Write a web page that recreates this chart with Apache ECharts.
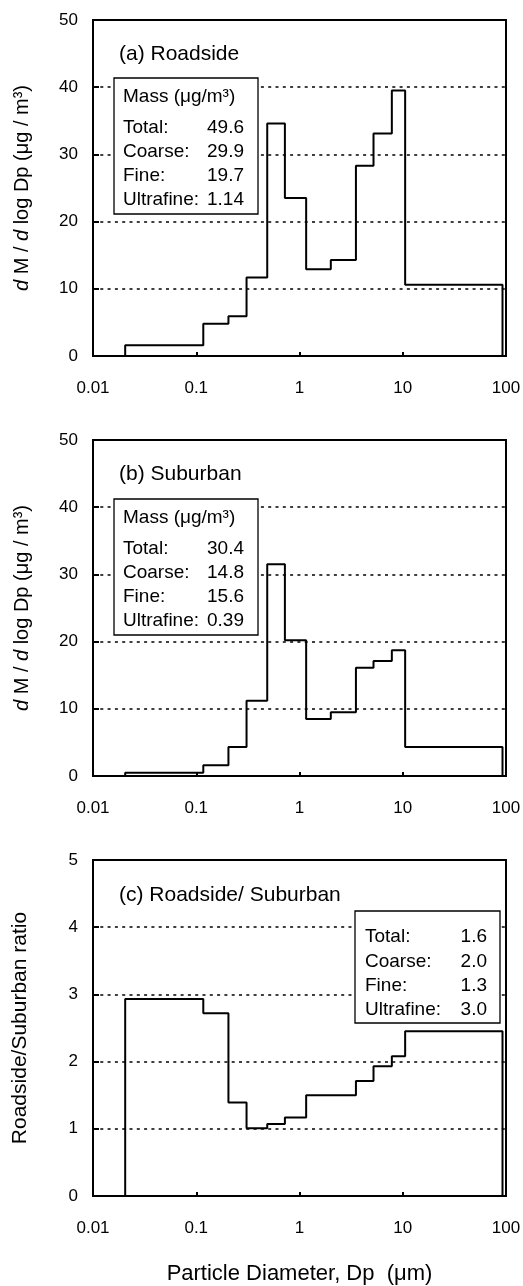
<!DOCTYPE html>
<html>
<head>
<meta charset="utf-8">
<script src="https://cdn.jsdelivr.net/npm/echarts@6/dist/echarts.min.js"></script>
<style>
  html, body { margin: 0; padding: 0; background: #fff; }
  #chart-root { width: 523px; height: 1286px; }
</style>
</head>
<body>
<div id="chart-root"></div>
<script>
// bin edges of the impactor stages (um)
var binEdges = [0.0205, 0.117, 0.205, 0.307, 0.487, 0.722, 1.16, 2.01, 3.52, 5.21, 7.84, 10.55, 92.5];

// dM/dlogDp per stage (ug/m3)
var roadside = [1.6, 4.8, 5.9, 11.7, 34.6, 23.5, 12.9, 14.3, 28.3, 33.1, 39.5, 10.6];
var suburban = [0.5, 1.6, 4.3, 11.2, 31.5, 20.2, 8.5, 9.5, 16.1, 17.1, 18.7, 4.3];
var ratio = [2.93, 2.72, 1.39, 1.01, 1.07, 1.17, 1.50, 1.50, 1.71, 1.93, 2.08, 2.45];

var xTickLabels = ["0.01", "0.1", "1", "10", "100"];

// text boxes
var massLabels = ["Total:", "Coarse:", "Fine:", "Ultrafine:"];
var roadsideMass = ["49.6", "29.9", "19.7", "1.14"];
var suburbanMass = ["30.4", "14.8", "15.6", "0.39"];
var ratioValues = ["1.6", "2.0", "1.3", "3.0"];

var panelTitles = ["(a) Roadside", "(b) Suburban", "(c) Roadside/ Suburban"];

var FONT = "'Liberation Sans', Arial, sans-serif";

function stepPoints(edges, vals) {
  var pts = [[edges[0], 0]];
  for (var i = 0; i < vals.length; i++) {
    pts.push([edges[i], vals[i]]);
    pts.push([edges[i + 1], vals[i]]);
  }
  pts.push([edges[edges.length - 1], 0]);
  return pts;
}

var gridTops = [20, 440, 860];

function makeX(idx, showName) {
  return {
    type: "log",
    logBase: 10,
    gridIndex: idx,
    min: 0.01,
    max: 100,
    name: showName ? "Particle Diameter, Dp  (\u03bcm)" : "",
    nameLocation: "middle",
    nameGap: 67,
    nameTextStyle: { color: "#000", fontSize: 22, fontFamily: FONT },
    axisLine: { show: true, onZero: false, lineStyle: { color: "#000", width: 2 } },
    axisTick: { show: true, inside: true, length: 4, lineStyle: { color: "#000", width: 2 } },
    minorTick: { show: false },
    splitLine: { show: false },
    axisLabel: {
      color: "#000",
      fontSize: 17,
      fontFamily: FONT,
      margin: 24,
      showMinLabel: true,
      showMaxLabel: true,
      formatter: function (v) {
        var k = Math.round(Math.log10(v)) + 2;
        return xTickLabels[k] || "";
      }
    }
  };
}

function makeY(idx, max, interval, name, gap, size) {
  return {
    type: "value",
    gridIndex: idx,
    min: 0,
    max: max,
    interval: interval,
    name: name,
    nameLocation: "middle",
    nameGap: gap,
    nameTextStyle: {
      color: "#000",
      fontSize: size,
      fontFamily: FONT,
      rich: {
        i: { fontStyle: "italic", fontSize: size, fontFamily: FONT, color: "#000" }
      }
    },
    axisLine: { show: true, lineStyle: { color: "#000", width: 2 } },
    axisTick: { show: true, inside: true, length: 6, lineStyle: { color: "#000", width: 2 } },
    splitLine: {
      show: true,
      lineStyle: { color: "#000", width: 1.5, type: [3, 4.3] }
    },
    axisLabel: {
      color: "#000", fontSize: 17, fontFamily: FONT, margin: 15,
      padding: [7, 0, 0, 0]
    }
  };
}

function textBox(x, y, w, h, lines) {
  var children = [{
    type: "rect",
    z: 100,
    shape: { x: 0, y: 0, width: w, height: h },
    style: { fill: "#fff", stroke: "#000", lineWidth: 1.3 }
  }];
  lines.forEach(function (ln) {
    children.push({
      type: "text",
      z: 101,
      x: ln.x, y: ln.y,
      style: {
        text: ln.text, fill: "#000", font: "19px " + FONT,
        textAlign: ln.align || "left", textVerticalAlign: "middle"
      }
    });
  });
  return { type: "group", x: x, y: y, z: 100, children: children };
}

function massBox(top, values) {
  var lines = [{ text: "Mass (\u03bcg/m\u00b3)", x: 9, y: 19 }];
  for (var i = 0; i < massLabels.length; i++) {
    lines.push({ text: massLabels[i], x: 9, y: 50 + i * 24 });
    lines.push({ text: values[i], x: 130, y: 50 + i * 24, align: "right" });
  }
  return textBox(114, top, 144, 136, lines);
}

var ratioLines = [];
for (var i = 0; i < massLabels.length; i++) {
  ratioLines.push({ text: massLabels[i], x: 10, y: 26 + i * 24.4 });
  ratioLines.push({ text: ratioValues[i], x: 132, y: 26 + i * 24.4, align: "right" });
}

var yName = "{i|d} M / {i|d} log Dp (\u03bcg / m\u00b3)";

var chart = echarts.init(document.getElementById("chart-root"), null, { renderer: "canvas" });

var option = {
  animation: false,
  backgroundColor: "#fff",
  grid: gridTops.map(function (t) {
    return {
      left: 93, top: t, width: 413, height: 336,
      containLabel: false,
      outerBoundsMode: "none",
      show: true, borderColor: "#000", borderWidth: 2, backgroundColor: "transparent"
    };
  }),
  xAxis: [makeX(0, false), makeX(1, false), makeX(2, true)],
  yAxis: [
    makeY(0, 50, 10, yName, 61, 20),
    makeY(1, 50, 10, yName, 61, 20),
    makeY(2, 5, 1, "Roadside/Suburban ratio", 62, 21)
  ],
  series: [
    { type: "line", xAxisIndex: 0, yAxisIndex: 0, data: stepPoints(binEdges, roadside) },
    { type: "line", xAxisIndex: 1, yAxisIndex: 1, data: stepPoints(binEdges, suburban) },
    { type: "line", xAxisIndex: 2, yAxisIndex: 2, data: stepPoints(binEdges, ratio) }
  ].map(function (s) {
    s.showSymbol = false;
    s.symbol = "none";
    s.z = 5;
    s.lineStyle = { color: "#000", width: 2 };
    return s;
  }),
  graphic: [
    { type: "text", left: 119, top: 44, style: { text: panelTitles[0], fill: "#000", font: "21px " + FONT } },
    { type: "text", left: 119, top: 464, style: { text: panelTitles[1], fill: "#000", font: "21px " + FONT } },
    { type: "text", left: 119, top: 885, style: { text: panelTitles[2], fill: "#000", font: "21px " + FONT } },
    massBox(78, roadsideMass),
    massBox(499, suburbanMass),
    textBox(355, 911, 145, 112, ratioLines)
  ]
};

chart.setOption(option);
window.onresize = chart.resize;
</script>
</body>
</html>
